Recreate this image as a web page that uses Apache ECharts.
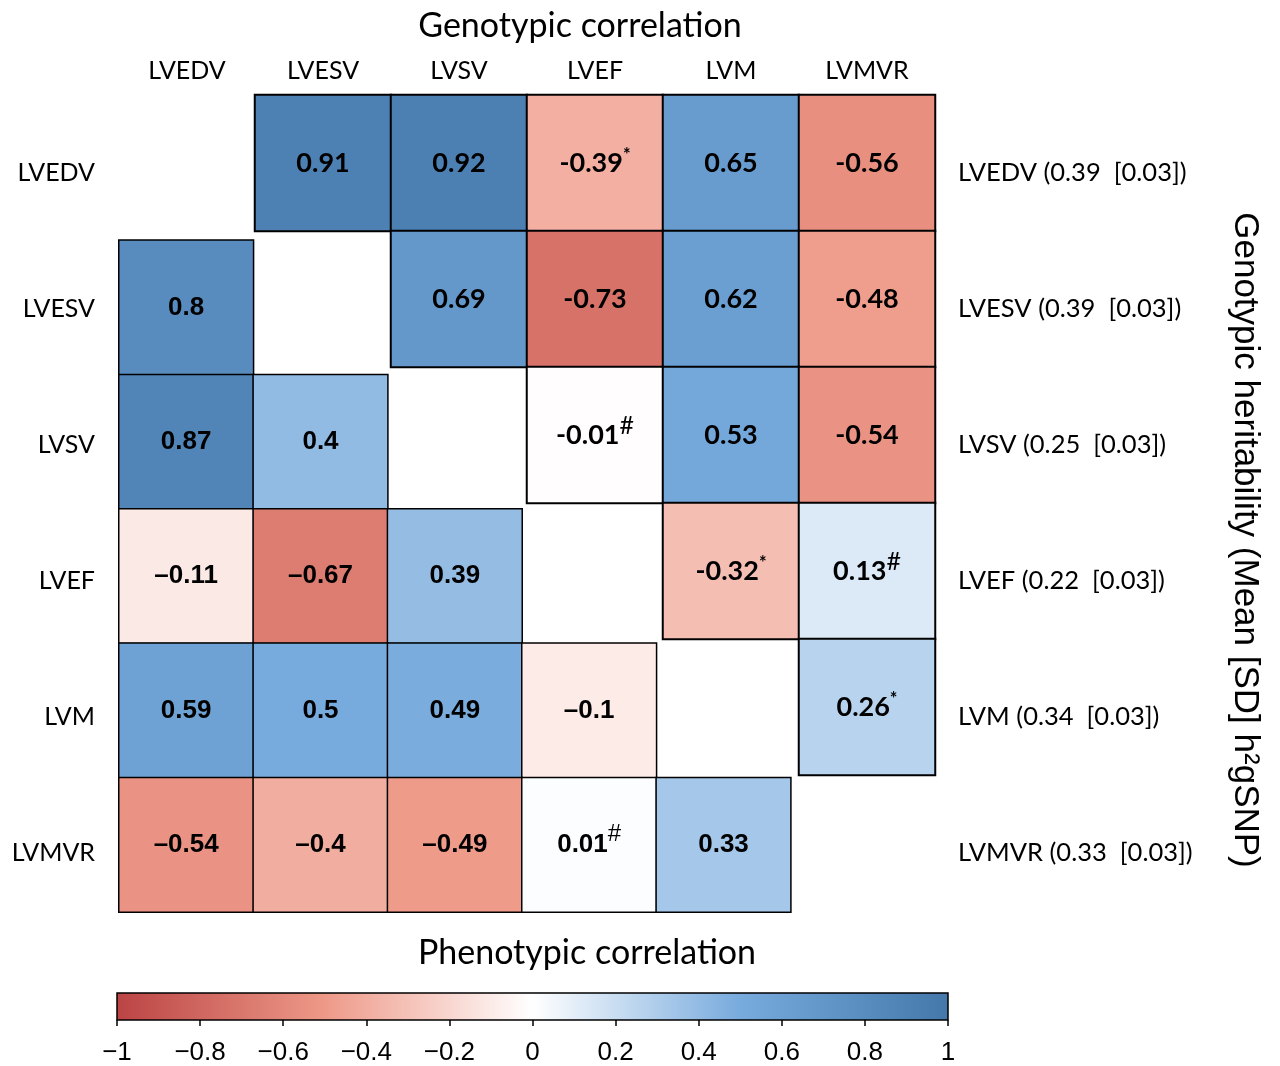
<!DOCTYPE html>
<html>
<head>
<meta charset="utf-8">
<script src="https://cdn.jsdelivr.net/npm/echarts@6/dist/echarts.min.js"></script>
<style>html,body{margin:0;padding:0;background:#fff}#c{width:1280px;height:1066px}</style>
</head>
<body>
<div id="c"></div>
<script>
const traits = ['LVEDV', 'LVESV', 'LVSV', 'LVEF', 'LVM', 'LVMVR'];
// upper triangle: genotypic correlations (row i, column j, i<j)
const genotypic = [
  [null, 0.91, 0.92, -0.39, 0.65, -0.56],
  [null, null, 0.69, -0.73, 0.62, -0.48],
  [null, null, null, -0.01, 0.53, -0.54],
  [null, null, null, null, -0.32, 0.13],
  [null, null, null, null, null, 0.26],
  [null, null, null, null, null, null]
];
const genotypicMarks = [
  ['', '', '', '*', '', ''],
  ['', '', '', '', '', ''],
  ['', '', '', '#', '', ''],
  ['', '', '', '', '*', '#'],
  ['', '', '', '', '', '*'],
  ['', '', '', '', '', '']
];
// lower triangle: phenotypic correlations (row i, column j, i>j)
const phenotypic = [
  [null, null, null, null, null, null],
  [0.8, null, null, null, null, null],
  [0.87, 0.4, null, null, null, null],
  [-0.11, -0.67, 0.39, null, null, null],
  [0.59, 0.5, 0.49, -0.1, null, null],
  [-0.54, -0.4, -0.49, 0.01, 0.33, null]
];
const phenotypicMarks = [
  ['', '', '', '', '', ''],
  ['', '', '', '', '', ''],
  ['', '', '', '', '', ''],
  ['', '', '', '', '', ''],
  ['', '', '', '', '', ''],
  ['', '', '', '#', '', '']
];
const heritabilityMean = [0.39, 0.39, 0.25, 0.22, 0.34, 0.33];
const heritabilitySD = [0.03, 0.03, 0.03, 0.03, 0.03, 0.03];
const colorStops = ['#BB4444', '#EE9988', '#FFFFFF', '#77AADD', '#4477AA'];

function toCells(mat, marks) {
  const out = [];
  mat.forEach((row, i) => row.forEach((v, j) => {
    if (v !== null) out.push({ value: [j, i, v], mark: marks[i][j] });
  }));
  return out;
}
const upperData = toCells(genotypic, genotypicMarks);
const lowerData = toCells(phenotypic, phenotypicMarks);
const heritLabels = traits.map((t, i) => t + ' (' + heritabilityMean[i].toFixed(2) + '  [' + heritabilitySD[i].toFixed(2) + '])');

const chart = echarts.init(document.getElementById('c'), null, { renderer: 'canvas' });
const calibri = 'Lato, "Open Sans", sans-serif';
const narrow = '"Liberation Sans Narrow", "Liberation Sans", Arial, sans-serif';

const option = {
  backgroundColor: '#fff',
  animation: false,
  title: [
    { text: 'Genotypic correlation', left: 575, top: 4, textAlign: 'center',
      textStyle: { fontFamily: calibri, fontSize: 34, fontWeight: 'normal', color: '#000' } },
    { text: 'Phenotypic correlation', left: 582, top: 931, textAlign: 'center',
      textStyle: { fontFamily: calibri, fontSize: 34, fontWeight: 'normal', color: '#000' } }
  ],
  visualMap: {
    show: false, type: 'continuous', min: -1, max: 1, dimension: 2,
    seriesIndex: [0, 1], inRange: { color: colorStops }
  },
  grid: [
    { left: 119, top: 95, width: 816, height: 816 },
    { left: 119, top: 106, width: 806, height: 806 },
    { left: 119, top: 105, width: 816, height: 816 },
    { left: 117, top: 993, width: 831, height: 27, show: true, borderColor: '#000', borderWidth: 1.5,
      backgroundColor: new echarts.graphic.LinearGradient(0, 0, 1, 0,
        colorStops.map((c, k) => ({ offset: k / (colorStops.length - 1), color: c }))) }
  ],
  xAxis: [
    { type: 'category', gridIndex: 0, data: traits, position: 'top',
      axisLine: { show: false }, axisTick: { show: false }, splitLine: { show: false },
      axisLabel: { margin: 12, fontFamily: calibri, fontSize: 25, color: '#000' } },
    { type: 'category', gridIndex: 1, data: traits, show: false },
    { type: 'category', gridIndex: 2, data: traits, show: false },
    { type: 'value', gridIndex: 3, min: -1, max: 1, interval: 0.2, position: 'bottom',
      axisLine: { show: false }, splitLine: { show: false },
      axisTick: { show: true, length: 6, lineStyle: { color: '#000', width: 1.5 } },
      axisLabel: { margin: 20, fontFamily: narrow, fontSize: 26, color: '#000',
        formatter: v => { const r = Math.round(v * 10) / 10; return r < 0 ? '\u2212' + String(-r) : String(r); } } }
  ],
  yAxis: [
    { type: 'category', gridIndex: 0, data: traits, inverse: true, show: false },
    { type: 'category', gridIndex: 1, data: traits, inverse: true, show: false },
    { type: 'category', gridIndex: 2, data: traits, inverse: true, position: 'left',
      axisLine: { show: false }, axisTick: { show: false }, splitLine: { show: false },
      axisLabel: { margin: 24, fontFamily: calibri, fontSize: 25, color: '#000' } },
    { type: 'category', gridIndex: 2, data: heritLabels, inverse: true, position: 'right',
      axisLine: { show: false }, axisTick: { show: false }, splitLine: { show: false },
      axisLabel: { margin: 23, fontFamily: calibri, fontSize: 25.5, color: '#000' },
      name: 'Genotypic heritability (Mean [SD] h\u00B2gSNP)', nameLocation: 'middle', nameRotate: -90,
      nameGap: 292, nameTextStyle: { fontFamily: '"Liberation Sans", Arial, sans-serif', fontSize: 35, color: '#000',
        padding: [0, 0, 0, 54] } },
    { type: 'value', gridIndex: 3, min: 0, max: 1, show: false }
  ],
  series: [
    { type: 'heatmap', xAxisIndex: 0, yAxisIndex: 0, data: upperData,
      itemStyle: { borderColor: '#000', borderWidth: 2 },
      emphasis: { disabled: true },
      label: { show: true, color: '#000',
        formatter: p => {
          const v = p.value[2];
          const m = p.data.mark;
          let s = '{v|' + v.toFixed(2).replace(/\.?0+$/, '') + '}';
          if (m === '*') s += '{s|*}';
          if (m === '#') s += '{h|#}';
          return s;
        },
        rich: {
          v: { fontFamily: calibri, fontWeight: 'bold', fontSize: 27, color: '#000', lineHeight: 34 },
          s: { fontFamily: calibri, fontWeight: 'bold', fontSize: 18, color: '#000', verticalAlign: 'top', lineHeight: 34 },
          h: { fontFamily: calibri, fontSize: 25, color: '#000', verticalAlign: 'top', lineHeight: 44 }
        } } },
    { type: 'heatmap', xAxisIndex: 1, yAxisIndex: 1, data: lowerData,
      itemStyle: { borderColor: '#000', borderWidth: 1.5 },
      emphasis: { disabled: true },
      label: { show: true, color: '#000',
        formatter: p => {
          const v = p.value[2];
          const m = p.data.mark;
          let t = String(Math.abs(v));
          if (v < 0) t = '\u2013' + t;
          let s = '{v|' + t + '}';
          if (m === '#') s += '{h|#}';
          return s;
        },
        rich: {
          v: { fontFamily: narrow, fontWeight: 'bold', fontSize: 26, color: '#000', lineHeight: 34 },
          h: { fontFamily: narrow, fontSize: 24, color: '#000', verticalAlign: 'top', lineHeight: 44 }
        } } }
  ]
};
chart.setOption(option);
</script>
</body>
</html>
